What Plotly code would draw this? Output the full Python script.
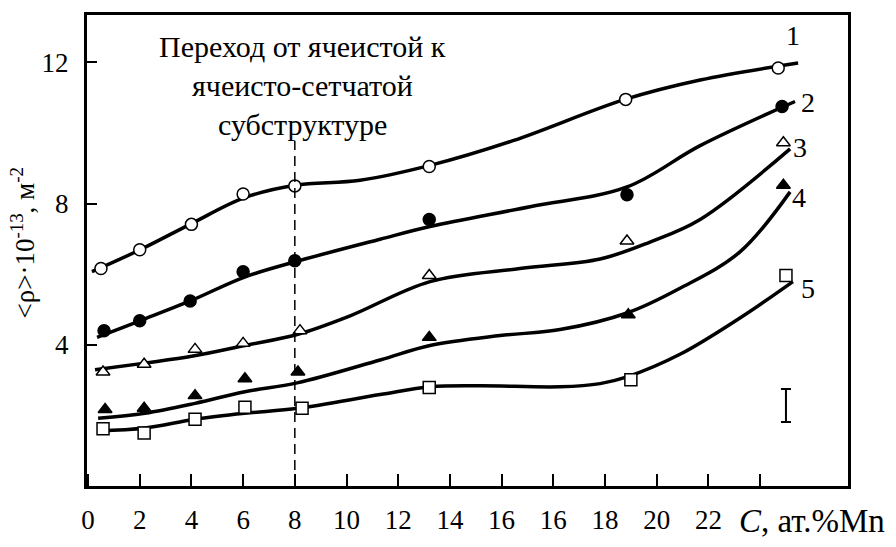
import plotly.graph_objects as go

# Measured points (x in axis units, ticks every 2)
x1 = [0.5, 2.0, 4.0, 6.0, 8.0, 13.2, 20.8, 26.7]
y1 = [6.16, 6.69, 7.41, 8.27, 8.50, 9.05, 10.95, 11.84]
x2 = [0.62, 2.0, 3.95, 6.0, 8.0, 13.2, 20.85, 26.85]
y2 = [4.40, 4.68, 5.24, 6.07, 6.38, 7.55, 8.25, 10.75]
x3 = [0.58, 2.17, 4.14, 6.0, 8.2, 13.2, 20.85, 26.9]
y3 = [3.23, 3.45, 3.87, 4.04, 4.40, 5.96, 6.94, 9.72]
x4 = [0.66, 2.17, 4.14, 6.07, 8.12, 13.2, 20.9, 26.9]
y4 = [2.17, 2.20, 2.56, 3.04, 3.23, 4.21, 4.85, 8.52]
x5 = [0.58, 2.17, 4.14, 6.07, 8.28, 13.2, 21.0, 27.0]
y5 = [1.62, 1.50, 1.89, 2.23, 2.20, 2.79, 3.01, 5.96]

# Fitted curves
cx1 = [0.15, 2.01, 4.02, 6.03, 8.01, 10.52, 13.23, 16.44, 20.77, 23.68, 27.47]
cy1 = [6.07, 6.69, 7.44, 8.16, 8.52, 8.66, 9.08, 9.78, 10.95, 11.50, 11.98]
cx2 = [0.35, 2.01, 3.95, 6.03, 8.01, 11.30, 13.23, 17.10, 20.85, 23.68, 27.35]
cy2 = [4.21, 4.68, 5.24, 5.91, 6.35, 6.99, 7.35, 7.91, 8.47, 9.64, 10.89]
cx3 = [0.27, 2.20, 4.06, 6.07, 8.09, 10.14, 13.23, 16.71, 19.81, 21.74, 23.68, 27.16]
cy3 = [3.29, 3.48, 3.68, 3.98, 4.29, 4.82, 5.79, 6.16, 6.43, 6.91, 7.55, 9.55]
cx4 = [0.39, 2.20, 4.14, 6.07, 8.09, 11.30, 13.23, 15.94, 18.26, 20.85, 22.90, 25.22, 27.16]
cy4 = [1.92, 2.06, 2.34, 2.67, 2.92, 3.57, 3.98, 4.26, 4.43, 4.90, 5.60, 6.63, 8.33]
cx5 = [0.39, 2.20, 4.14, 6.07, 8.12, 11.30, 13.23, 15.16, 18.26, 19.81, 20.85, 22.90, 25.22, 27.27]
cy5 = [1.56, 1.64, 1.89, 2.06, 2.20, 2.59, 2.81, 2.84, 2.81, 2.90, 3.09, 3.73, 4.76, 5.79]

x_tickvals = [0, 2, 4, 6, 8, 10, 12, 14, 16, 18, 20, 22, 24, 26]
x_ticktext = ['0', '2', '4', '6', '8', '10', '12', '14', '16', '16', '18', '20', '22', '']
y_tickvals = [4, 8, 12]

curve_labels = ['1', '2', '3', '4', '5']
label_x = [27.27, 27.85, 27.54, 27.5, 27.85]
label_y = [12.75, 10.86, 9.58, 8.16, 5.6]

note_lines = ['Переход от ячеистой к', 'ячеисто-сетчатой', 'субструктуре']
note_y = [0.933, 0.850, 0.768]

transition_c = 8
err_x, err_y, err_half = 27.0, 2.28, 0.47

FONT = 'Liberation Serif'

fig = go.Figure()

# Curves
for cx, cy in [(cx1, cy1), (cx2, cy2), (cx3, cy3), (cx4, cy4), (cx5, cy5)]:
    fig.add_trace(go.Scatter(x=cx, y=cy, mode='lines',
                             line=dict(color='black', width=3.5, shape='spline', smoothing=1),
                             showlegend=False, hoverinfo='skip'))

# Points
markers = [
    (x1, y1, 'circle', 'white'),
    (x2, y2, 'circle', 'black'),
    (x3, y3, 'triangle-up', 'white'),
    (x4, y4, 'triangle-up', 'black'),
    (x5, y5, 'square', 'white'),
]
for mx, my, sym, fill in markers:
    fig.add_trace(go.Scatter(x=mx, y=my, mode='markers',
                             marker=dict(symbol=sym, size=12, color=fill,
                                         line=dict(color='black', width=1.5)),
                             showlegend=False))

# Error bar sample
fig.add_trace(go.Scatter(x=[err_x], y=[err_y], mode='markers',
                         marker=dict(size=1, color='rgba(0,0,0,0)'),
                         error_y=dict(type='constant', value=err_half, color='black',
                                      thickness=2, width=5),
                         showlegend=False))

# Transition line
fig.add_shape(type='line', x0=transition_c, x1=transition_c, y0=0, y1=9.78,
              line=dict(color='black', width=1.5, dash='10px,6px'))

for t, lx, ly in zip(curve_labels, label_x, label_y):
    fig.add_annotation(x=lx, y=ly, text=t, showarrow=False,
                       font=dict(family=FONT, size=28, color='black'))

for t, ny in zip(note_lines, note_y):
    fig.add_annotation(x=8.28, y=ny, xref='x', yref='paper', xanchor='center', yanchor='middle',
                       text=t, showarrow=False,
                       font=dict(family=FONT, size=30, color='black'))

fig.add_annotation(x=-0.084, y=0.515, xref='paper', yref='paper', xanchor='center', yanchor='middle',
                   text='<ρ>·10<sup>-13</sup>, м<sup>-2</sup>', textangle=-90,
                   showarrow=False, font=dict(family=FONT, size=27, color='black'))

fig.add_annotation(x=0.953, y=-0.075, xref='paper', yref='paper', xanchor='center', yanchor='middle',
                   text='<i>C</i>, ат.%Mn', showarrow=False,
                   font=dict(family=FONT, size=33, color='black'))

fig.update_layout(
    width=896,
    height=547,
    margin=dict(l=87, r=48, t=12, b=56),
    plot_bgcolor='white',
    paper_bgcolor='white',
    font=dict(family=FONT, size=26, color='black'),
    xaxis=dict(range=[-0.04, 29.4], tickvals=x_tickvals, ticktext=x_ticktext,
               tickfont=dict(family=FONT, size=27, color='black'),
               ticks='inside', ticklen=12, tickwidth=2, tickcolor='black',
               showline=True, linewidth=3, linecolor='black', mirror=True,
               showgrid=False, zeroline=False, ticklabelstandoff=8),
    yaxis=dict(range=[0, 13.34], tickvals=y_tickvals,
               tickfont=dict(family=FONT, size=27, color='black'),
               ticks='inside', ticklen=10, tickwidth=2, tickcolor='black',
               showline=True, linewidth=3, linecolor='black', mirror=True,
               showgrid=False, zeroline=False, ticklabelstandoff=10),
)

# page has a default body margin; drop it so the figure sits at 0,0
fig.write_html("out.html", config={'displayModeBar': False},
               post_script="document.body.style.margin='0';")
